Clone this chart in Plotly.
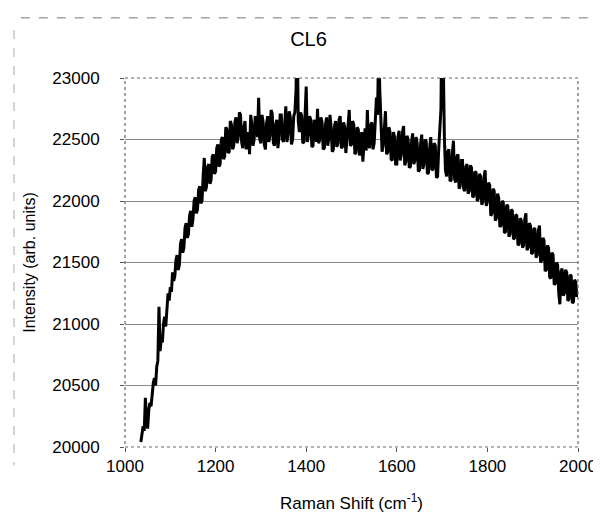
import plotly.graph_objects as go

# Raman shift (cm^-1)
raman_shift = [
    1035, 1037.5, 1040, 1042.5, 1045, 1047.5, 1050, 1052.5, 1055, 1057.5, 1060, 1062.5,
    1065, 1067.5, 1070, 1072.5, 1075, 1077.5, 1080, 1082.5, 1085, 1087.5, 1090, 1092.5,
    1095, 1097.5, 1100, 1102.5,
    1105, 1107.5, 1110, 1112.5, 1115, 1117.5, 1120, 1122.5, 1125, 1127.5, 1130, 1132.5,
    1135, 1137.5, 1140, 1142.5, 1145, 1147.5, 1150, 1152.5, 1155, 1157.5, 1160, 1162.5,
    1165, 1167.5, 1170, 1172.5, 1175, 1177.5, 1180, 1182.5, 1185, 1187.5, 1190, 1192.5,
    1195, 1197.5, 1200, 1202.5, 1205, 1207.5, 1210, 1212.5, 1215, 1217.5, 1220, 1222.5,
    1225, 1227.5, 1230, 1232.5, 1235, 1237.5,
    1240, 1242.5, 1245, 1247.5, 1250, 1252.5, 1255, 1257.5, 1260, 1262.5, 1265, 1267.5,
    1270, 1272.5, 1275, 1277.5, 1280, 1282.5, 1285, 1287.5, 1290, 1292.5, 1295, 1297.5,
    1300, 1302.5, 1305, 1307.5, 1310, 1312.5, 1315, 1317.5, 1320, 1322.5, 1325, 1327.5,
    1330, 1332.5, 1335, 1337.5, 1340, 1342.5, 1345, 1347.5, 1350, 1352.5, 1355, 1357.5,
    1360, 1362.5, 1365, 1367.5, 1370, 1372.5, 1375, 1377.5, 1380, 1382.5, 1385, 1387.5,
    1390, 1392.5, 1395, 1397.5, 1400, 1402.5, 1405, 1407.5, 1410, 1412.5, 1415, 1417.5,
    1420, 1422.5, 1425, 1427.5, 1430, 1432.5, 1435, 1437.5, 1440, 1442.5, 1445, 1447.5,
    1450, 1452.5, 1455, 1457.5, 1460, 1462.5, 1465, 1467.5, 1470, 1472.5, 1475, 1477.5,
    1480, 1482.5, 1485, 1487.5, 1490, 1492.5, 1495, 1497.5, 1500, 1502.5, 1505, 1507.5,
    1510, 1512.5, 1515, 1517.5, 1520, 1522.5, 1525, 1527.5, 1530, 1532.5, 1535, 1537.5,
    1540, 1542.5, 1545, 1547.5, 1550, 1552.5,
    1555, 1557.5, 1560, 1562.5, 1565, 1567.5, 1570, 1572.5, 1575, 1577.5, 1580, 1582.5,
    1585, 1587.5, 1590, 1592.5, 1595, 1597.5, 1600, 1602.5, 1605, 1607.5, 1610, 1612.5,
    1615, 1617.5, 1620, 1622.5, 1625, 1627.5, 1630, 1632.5, 1635, 1637.5, 1640, 1642.5,
    1645, 1647.5, 1650, 1652.5, 1655, 1657.5, 1660, 1662.5, 1665, 1667.5, 1670, 1672.5,
    1675, 1677.5, 1680, 1682.5, 1685, 1687.5, 1690, 1692.5, 1695, 1697.5, 1700, 1702.5,
    1705, 1707.5, 1710, 1712.5, 1715, 1717.5, 1720, 1722.5, 1725, 1727.5, 1730, 1732.5,
    1735, 1737.5, 1740, 1742.5, 1745, 1747.5, 1750, 1752.5,
    1755, 1757.5, 1760, 1762.5, 1765, 1767.5, 1770, 1772.5, 1775, 1777.5, 1780, 1782.5,
    1785, 1787.5, 1790, 1792.5, 1795, 1797.5, 1800, 1802.5, 1805, 1807.5, 1810, 1812.5,
    1815, 1817.5, 1820, 1822.5, 1825, 1827.5, 1830, 1832.5, 1835, 1837.5, 1840, 1842.5,
    1845, 1847.5, 1850, 1852.5, 1855, 1857.5, 1860, 1862.5, 1865, 1867.5, 1870, 1872.5,
    1875, 1877.5, 1880, 1882.5, 1885, 1887.5, 1890, 1892.5, 1895, 1897.5, 1900, 1902.5,
    1905, 1907.5, 1910, 1912.5, 1915, 1917.5, 1920, 1922.5, 1925, 1927.5, 1930, 1932.5,
    1935, 1937.5, 1940, 1942.5, 1945, 1947.5, 1950, 1952.5, 1955, 1957.5, 1960, 1962.5,
    1965, 1967.5, 1970, 1972.5, 1975, 1977.5, 1980, 1982.5, 1985, 1987.5, 1990, 1992.5,
    1995, 1997.5, 2000,
]

# Intensity (arb. units)
intensity = [
    20040, 20110, 20170, 20130, 20400, 20220, 20150, 20300, 20360, 20330, 20430, 20520,
    20560, 20500, 20650, 20700, 21140, 20780, 20880, 20850, 21000, 21060, 20980, 21150,
    21250, 21190, 21300, 21260,
    21420, 21350, 21390, 21520, 21560, 21440, 21480, 21650, 21690, 21580, 21620, 21780,
    21820, 21700, 21730, 21880, 21920, 21790, 21850, 22000, 22030, 21900, 21930, 22090,
    22120, 21980, 22000, 22200, 22350, 22080, 22120, 22280, 22300, 22140, 22170, 22360,
    22380, 22220, 22240, 22430, 22460, 22280, 22300, 22500, 22520, 22340, 22360, 22600,
    22580, 22390, 22400, 22650, 22620, 22420,
    22450, 22640, 22680, 22470, 22520, 22720, 22700, 22480, 22430, 22600, 22650, 22420,
    22480, 22560, 22380, 22700, 22620, 22450, 22500, 22690, 22660, 22520, 22840, 22500,
    22470, 22700, 22640, 22460, 22420, 22630, 22690, 22480, 22530, 22740, 22710, 22470,
    22450, 22620, 22660, 22430, 22520, 22700, 22700, 22500, 22480, 22650, 22770, 22480,
    22550, 22730, 22680, 22460, 22500, 22690, 22720, 22900, 23400, 22650, 22560, 22720,
    22690, 22470, 22480, 22700, 22930, 22480, 22540, 22690, 22660, 22440, 22450, 22660,
    22620, 22480, 22750, 22470, 22500, 22680, 22640, 22420, 22430, 22620, 22680, 22450,
    22510, 22700, 22600, 22400, 22420, 22610, 22650, 22440, 22470, 22660, 22690, 22430,
    22440, 22640, 22600, 22390, 22480, 22620, 22740, 22450, 22460, 22650, 22620, 22380,
    22400, 22600, 22580, 22370, 22440, 22560, 22320, 22520, 22590, 22410, 22740, 22460,
    22430, 22620, 22640, 22420, 22470, 22650,
    22840, 22700, 23300, 22900, 22620, 22400, 22450, 22620, 22730, 22380, 22400, 22600,
    22560, 22340, 22330, 22560, 22520, 22300, 22300, 22520, 22570, 22330, 22380, 22560,
    22610, 22290, 22320, 22530, 22500, 22270, 22280, 22480, 22550, 22300, 22330, 22520,
    22470, 22240, 22250, 22460, 22540, 22260, 22300, 22500, 22480, 22220, 22230, 22430,
    22520, 22250, 22260, 22470, 22450, 22190, 22200, 22420, 22560, 22750, 23800, 22900,
    22520, 22250, 22200, 22400, 22420, 22160, 22170, 22380, 22490, 22180, 22150, 22360,
    22380, 22100, 22120, 22330, 22330, 22100, 22080, 22280,
    22300, 22060, 22080, 22290, 22270, 22030, 22040, 22240, 22230, 22000, 22020, 22220,
    22200, 21970, 21990, 22190, 22250, 21960, 22000, 22150, 22130, 21880, 21900, 22100,
    22080, 21840, 21860, 22060, 22020, 21790, 21800, 22000, 21990, 21740, 21750, 21970,
    21960, 21710, 21730, 21930, 21920, 21690, 21700, 21890, 21880, 21640, 21650, 21860,
    21840, 21620, 21640, 21850, 21900, 21600, 21620, 21820, 21800, 21570, 21580, 21780,
    21770, 21540, 21560, 21760, 21800, 21500, 21520, 21700, 21680, 21430, 21440, 21640,
    21620, 21380, 21370, 21580, 21560, 21320, 21330, 21500, 21480, 21250, 21160, 21430,
    21450, 21230, 21250, 21440, 21420, 21190, 21200, 21400, 21390, 21170, 21180, 21360,
    21340, 21220, 21260,
]

assert len(raman_shift) == len(intensity), (len(raman_shift), len(intensity))

x_ticks = [1000, 1200, 1400, 1600, 1800, 2000]
y_ticks = [20000, 20500, 21000, 21500, 22000, 22500, 23000]

FONT = "Liberation Sans, Arial, sans-serif"

fig = go.Figure()
fig.add_trace(go.Scatter(
    x=raman_shift, y=intensity, mode="lines",
    line=dict(color="black", width=3),
    showlegend=False, hoverinfo="skip",
))

fig.update_layout(
    width=601, height=524,
    margin=dict(l=117, r=24, t=70, b=85),
    paper_bgcolor="white", plot_bgcolor="white",
    font=dict(family=FONT, color="black", size=17),
    title=dict(text="CL6", x=0.5, xanchor="center", y=0.94, yanchor="middle",
               font=dict(size=20, family=FONT, color="black")),
)

fig.update_xaxes(
    range=[1000, 2000], tickvals=x_ticks, ticktext=[str(v) for v in x_ticks],
    ticks="outside", ticklen=4, tickcolor="#555",
    showgrid=False, zeroline=False, showline=False,
    tickfont=dict(size=17),
    title=dict(text="Raman Shift (cm<sup>-1</sup>)", font=dict(size=17), standoff=21),
)
fig.update_yaxes(
    range=[20000, 23000], tickvals=y_ticks, ticktext=[str(v) for v in y_ticks],
    ticks="outside", ticklen=4, tickcolor="#555", ticklabelstandoff=17,
    showgrid=True, gridcolor="#8a8a8a", gridwidth=1, zeroline=False, showline=False,
    tickfont=dict(size=17),
    title=dict(text="Intensity (arb. units)", font=dict(size=16), standoff=12),
)

# plot-area border (dotted, as in the scan)
fig.add_shape(type="rect", xref="paper", yref="paper", x0=0, y0=0, x1=1, y1=1,
              line=dict(color="#666", width=1.2, dash="dot"), layer="above")
# faint chart-area frame of the scanned page
fig.add_shape(type="line", xref="paper", yref="paper", x0=-0.23, x1=1.043, y0=1.163, y1=1.163,
              line=dict(color="#777", width=1, dash="dash"))
fig.add_shape(type="line", xref="paper", yref="paper", x0=1.043, x1=1.043, y0=1.163, y1=0.97,
              line=dict(color="#999", width=1))
fig.add_shape(type="line", xref="paper", yref="paper", x0=-0.245, x1=-0.245, y0=1.13, y1=-0.05,
              line=dict(color="#aaa", width=1, dash="dash"))

fig.write_html("out.html")
